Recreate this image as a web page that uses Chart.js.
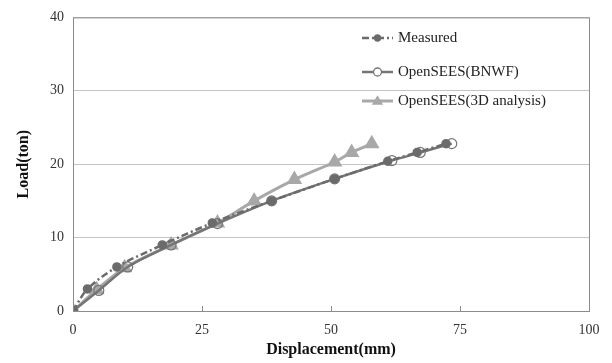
<!DOCTYPE html>
<html>
<head>
<meta charset="utf-8">
<script src="https://cdn.jsdelivr.net/npm/chart.js@4"></script>
<style>
  html, body { margin: 0; padding: 0; background: #fff; }
  #wrap { width: 612px; height: 363px; position: relative; }
</style>
</head>
<body>
<div id="wrap"><canvas id="loadChart"></canvas></div>
<script>
// values (mm, ton)
const measuredX = [0, 2.8, 8.5, 17.3, 27, 38.5, 50.7, 61, 66.7, 72.3];
const measuredY = [0, 3, 6, 9, 12, 15, 18, 20.4, 21.6, 22.8];

const bnwfX = [0, 5, 10.6, 19, 28, 38.5, 50.7, 61.8, 67.3, 73.4];
const bnwfY = [0, 2.8, 6, 9, 11.9, 15, 18, 20.5, 21.6, 22.8];

const solidX = [0, 4.6, 10, 19, 28, 35.1, 42.9, 50.7, 54, 57.9];
const solidY = [0, 2.9, 5.9, 9, 12, 15, 17.9, 20.3, 21.6, 22.8];

const xTicks = [0, 25, 50, 75, 100];
const yTicks = [0, 10, 20, 30, 40];

const toPoints = (xs, ys) => xs.map((x, i) => ({ x: x, y: ys[i] }));

const serif = "'Liberation Serif', 'DejaVu Serif', serif";

// box around plot, inward x ticks, legend inside the plot
const framePlugin = {
  id: "frame",
  afterDraw(chart) {
    const { ctx, chartArea: a, scales } = chart;
    ctx.save();
    ctx.strokeStyle = "#8c8c8c";
    ctx.lineWidth = 1;
    ctx.strokeRect(a.left + 0.5, a.top + 0.5, a.right - a.left, a.bottom - a.top);
    xTicks.forEach((v) => {
      const px = Math.round(scales.x.getPixelForValue(v)) + 0.5;
      ctx.beginPath();
      ctx.moveTo(px, a.bottom);
      ctx.lineTo(px, a.bottom - 5);
      ctx.stroke();
    });

    const items = chart.data.datasets;
    const x0 = 362, x1 = 393, rows = [38, 72, 101];
    items.forEach((ds, i) => {
      const y = rows[i];
      ctx.strokeStyle = ds.borderColor;
      ctx.lineWidth = ds.borderWidth;
      ctx.setLineDash(ds.borderDash || []);
      ctx.beginPath();
      ctx.moveTo(x0, y);
      ctx.lineTo(x1, y);
      ctx.stroke();
      ctx.setLineDash([]);
      const cx = (x0 + x1) / 2;
      ctx.lineWidth = 1.3;
      ctx.fillStyle = i === 1 ? "#fff" : ds.pointBackgroundColor;
      ctx.strokeStyle = ds.pointBorderColor;
      ctx.beginPath();
      if (ds.pointStyle === "triangle") {
        ctx.moveTo(cx, y - 4.5);
        ctx.lineTo(cx + 4.5, y + 3);
        ctx.lineTo(cx - 4.5, y + 3);
        ctx.closePath();
      } else {
        ctx.arc(cx, y, i === 0 ? 3 : 4, 0, Math.PI * 2);
      }
      ctx.fill();
      ctx.stroke();
      ctx.fillStyle = "#222";
      ctx.font = "15px " + serif;
      ctx.textBaseline = "middle";
      ctx.fillText(ds.label, 398, y);
    });
    ctx.restore();
  },
};

new Chart(document.getElementById("loadChart"), {
  type: "scatter",
  data: {
    datasets: [
      {
        label: "Measured",
        data: toPoints(measuredX, measuredY),
        showLine: true,
        tension: 0.3,
        borderColor: "#6b6b6b",
        borderWidth: 2.5,
        borderDash: [7, 3, 2, 3],
        pointStyle: "circle",
        pointRadius: 3.5,
        pointBackgroundColor: "#6b6b6b",
        pointBorderColor: "#6b6b6b",
        order: 1,
      },
      {
        label: "OpenSEES(BNWF)",
        data: toPoints(bnwfX, bnwfY),
        showLine: true,
        tension: 0.3,
        borderColor: "#757575",
        borderWidth: 2.5,
        pointStyle: "circle",
        pointRadius: 5,
        pointBorderWidth: 1.2,
        pointBackgroundColor: "rgba(255,255,255,0)",
        pointBorderColor: "#757575",
        order: 2,
      },
      {
        label: "OpenSEES(3D analysis)",
        data: toPoints(solidX, solidY),
        showLine: true,
        tension: 0.3,
        borderColor: "#a8a8a8",
        borderWidth: 3,
        pointStyle: "triangle",
        pointRadius: 6,
        pointBackgroundColor: "#a8a8a8",
        pointBorderColor: "#a8a8a8",
        order: 3,
      },
    ],
  },
  options: {
    responsive: true,
    maintainAspectRatio: false,
    animation: false,
    layout: { padding: { top: 12, right: 23, left: 0, bottom: 0 } },
    scales: {
      x: {
        type: "linear",
        min: 0,
        max: 100,
        afterBuildTicks: (s) => { s.ticks = xTicks.map((v) => ({ value: v })); },
        afterFit: (s) => { s.height = 52; },
        grid: { display: false },
        border: { display: false },
        ticks: { color: "#333", font: { family: serif, size: 14 }, padding: 3 },
        title: {
          display: true,
          text: "Displacement(mm)",
          color: "#111",
          font: { family: serif, size: 16, weight: "bold" },
          padding: { top: 0 },
        },
      },
      y: {
        min: 0,
        max: 40,
        afterBuildTicks: (s) => { s.ticks = yTicks.map((v) => ({ value: v })); },
        afterFit: (s) => { s.width = 73; },
        grid: { color: "#c4c4c4", drawTicks: false },
        border: { display: false },
        ticks: { color: "#333", font: { family: serif, size: 14 }, padding: 9 },
        title: {
          display: true,
          text: "Load(ton)",
          color: "#111",
          font: { family: serif, size: 16, weight: "bold" },
          padding: { top: 14, bottom: 4 },
        },
      },
    },
    plugins: {
      legend: { display: false },
      tooltip: { enabled: false },
    },
  },
  plugins: [framePlugin],
});
</script>
</body>
</html>
